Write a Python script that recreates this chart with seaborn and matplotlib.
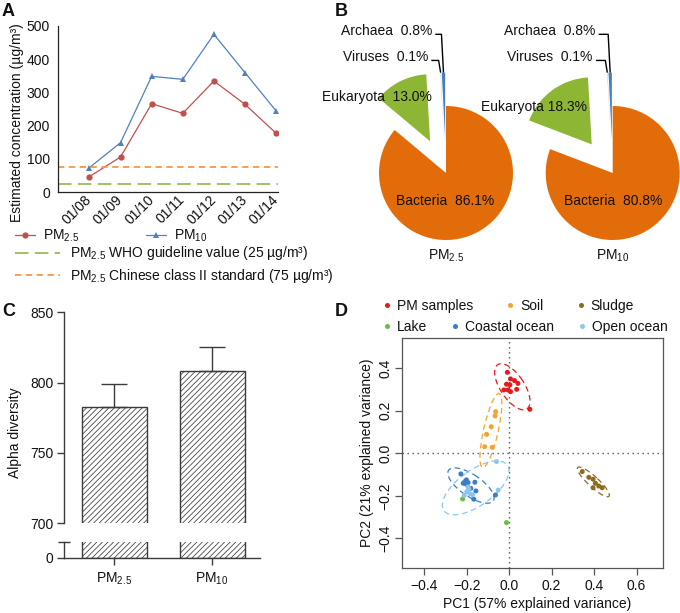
import numpy as np
import pandas as pd
import matplotlib
matplotlib.use("Agg")
import matplotlib.pyplot as plt
import seaborn as sns
from matplotlib.patches import Ellipse
from matplotlib.lines import Line2D

# ---------------- data ----------------
# Panel A
dates = ["01/08", "01/09", "01/10", "01/11", "01/12", "01/13", "01/14"]
pm25_conc = [47, 106, 266, 237, 334, 264, 177]
pm10_conc = [74, 149, 348, 339, 474, 359, 244]
who_value = 25
china_value = 75

# Panel B
domains = ["Bacteria", "Eukaryota", "Viruses", "Archaea"]
pm25_share = [86.1, 13.0, 0.1, 0.8]
pm10_share = [80.8, 18.3, 0.1, 0.8]

# Panel C
size_labels = ["PM$_{2.5}$", "PM$_{10}$"]
alpha_mean = [783, 808]
alpha_err = [16, 17]

# Panel D
pm_x = [-0.009, 0.006, 0.025, 0.041, -0.013, 0.003, 0.035, -0.025, -0.006, 0.006, 0.097]
pm_y = [0.381, 0.350, 0.342, 0.329, 0.325, 0.322, 0.301, 0.298, 0.298, 0.290, 0.207]
soil_x = [-0.064, -0.067, -0.085, -0.107, -0.116, -0.080]
soil_y = [0.196, 0.176, 0.125, 0.089, 0.031, 0.028]
sludge_x = [0.344, 0.375, 0.395, 0.406, 0.422, 0.395, 0.438]
sludge_y = [-0.086, -0.113, -0.122, -0.141, -0.154, -0.162, -0.162]
lake_x = [-0.220, -0.013]
lake_y = [-0.215, -0.326]
coastal_x = [-0.228, -0.202, -0.209, -0.194, -0.217, -0.202, -0.162, -0.181, -0.157, -0.167, -0.065]
coastal_y = [-0.097, -0.125, -0.133, -0.138, -0.141, -0.146, -0.136, -0.165, -0.177, -0.216, -0.196]
open_x = [-0.060, -0.052, -0.194, -0.200, -0.186, -0.173, -0.212, -0.190]
open_y = [-0.039, -0.173, -0.158, -0.180, -0.190, -0.195, -0.197, -0.170]
env_names = ["PM samples", "Soil", "Sludge", "Lake", "Coastal ocean", "Open ocean"]

# ---------------- style ----------------
sns.set_theme(style="white")
plt.rcParams["font.family"] = ["Liberation Sans", "DejaVu Sans"]
plt.rcParams["mathtext.fontset"] = "custom"
plt.rcParams["mathtext.rm"] = "Liberation Sans"
plt.rcParams["mathtext.it"] = "Liberation Sans:italic"
plt.rcParams["mathtext.bf"] = "Liberation Sans:bold"
plt.rcParams["mathtext.default"] = "regular"
plt.rcParams["hatch.linewidth"] = 0.55
plt.rcParams["axes.linewidth"] = 0.9
plt.rcParams["text.color"] = "#111111"
plt.rcParams["xtick.color"] = "#111111"
plt.rcParams["ytick.color"] = "#111111"

W, H = 680, 613
fig = plt.figure(figsize=(W / 100, H / 100), dpi=100)


def px_axes(x0, y0, x1, y1):
    return fig.add_axes([x0 / W, 1 - y1 / H, (x1 - x0) / W, (y1 - y0) / H])


def ftext(px, py, s, **kw):
    return fig.text(px / W, 1 - py / H, s, **kw)


# ---------------- Panel A ----------------
C25, C10 = "#C0504D", "#4F81BD"
CWHO, CCHN = "#9BBB59", "#F79646"
axA = px_axes(58.3, 25.7, 277.7, 192.3)
dfA = pd.DataFrame({"date": dates, "PM25": pm25_conc, "PM10": pm10_conc})
sns.lineplot(data=dfA, x="date", y="PM25", ax=axA, color=C25, marker="o",
             markersize=4.5, markeredgewidth=0, linewidth=0.9, sort=False)
sns.lineplot(data=dfA, x="date", y="PM10", ax=axA, color=C10, marker="^",
             markersize=4.8, markeredgewidth=0, linewidth=0.9, sort=False)
h25, h10 = axA.lines[0], axA.lines[1]
hwho = axA.axhline(who_value, color=CWHO, lw=1.3, dashes=(7.5, 3.5))
hchn = axA.axhline(china_value, color=CCHN, lw=1.3, dashes=(3.5, 2.5))
axA.set_xlim(-1, 6.05)
axA.set_ylim(0, 500)
axA.set_yticks(range(0, 501, 100))
axA.set_xlabel("")
axA.set_ylabel("")
for s in ("top", "right"):
    axA.spines[s].set_visible(False)
for s in ("left", "bottom"):
    axA.spines[s].set_color("#222222")
axA.tick_params(axis="both", length=0, labelsize=10)
axA.tick_params(axis="y", pad=6)
axA.tick_params(axis="x", pad=4)
plt.setp(axA.get_xticklabels(), rotation=45, ha="right", va="center",
         rotation_mode="anchor")
ftext(16.7, 123, "Estimated concentration (µg/m³)", rotation=90,
      ha="center", va="center", fontsize=10)

fig.legend([h25, h10], ["PM$_{2.5}$", "PM$_{10}$"], loc="center left",
           bbox_to_anchor=(15 / W, 1 - 236 / H), ncol=2, frameon=False,
           fontsize=10, handlelength=1.44, handletextpad=0.58,
           columnspacing=4.8, borderpad=0, borderaxespad=0)
fig.legend([hwho, hchn],
           [f"PM$_{{2.5}}$ WHO guideline value ({who_value} µg/m³)",
            f"PM$_{{2.5}}$ Chinese class II standard ({china_value} µg/m³)"],
           loc="center left", bbox_to_anchor=(15 / W, 1 - 264.5 / H),
           frameon=False, fontsize=10, handlelength=3.24,
           handletextpad=0.72, labelspacing=0.3, borderpad=0,
           borderaxespad=0)

# ---------------- Panel B ----------------
pie_colors = ["#E36C0A", "#8DB634", "#9DC3E6", "#4A7EBB"]
explode = [0, 0.53, 0.5, 0.5]
R = 67.0
HH = 110.0


def draw_pie(cx, shares, title, euk_pos, vir_pos, arch_pos, bac_pos, euk_sep):
    ax = px_axes(cx - R, 173 - HH, cx + R, 173 + HH)
    wedges, _ = ax.pie(shares, colors=pie_colors, startangle=90,
                       counterclock=False, explode=explode,
                       wedgeprops=dict(linewidth=0, clip_on=False))
    ax.set_aspect("auto")
    ax.set_xlim(-1, 1)
    ax.set_ylim(-HH / R, HH / R)
    ax.axis("off")
    ax.text(bac_pos[0], bac_pos[1], f"{domains[0]}  {shares[0]:.1f}%",
            ha="center", va="center", fontsize=10)
    ax.text(euk_pos[0], euk_pos[1], f"{domains[1]}{euk_sep}{shares[1]:.1f}%",
            ha="right", va="center", fontsize=10)
    for i, pos in ((2, vir_pos), (3, arch_pos)):
        ax.text(pos[0], pos[1], f"{domains[i]}  {shares[i]:.1f}%",
                ha="right", va="center", fontsize=10)
        w = wedges[i]
        tm = np.deg2rad((w.theta1 + w.theta2) / 2)
        tx = w.center[0] + w.r * np.cos(tm)
        ty = w.center[1] + w.r * np.sin(tm)
        ly = pos[1] - 0.05
        ax.plot([pos[0] + 0.05, tx - 0.03, tx], [ly, ly, ty], color="black",
                lw=1.0, clip_on=False, solid_capstyle="butt")
    ax.text(0, -1.24, title, ha="center", va="center", fontsize=10)


draw_pie(446.0, pm25_share, "PM$_{2.5}$", (-0.21, 1.13), (-0.27, 1.73),
         (-0.21, 2.12), (-0.015, -0.42), "  ")
draw_pie(612.7, pm10_share, "PM$_{10}$", (-0.39, 0.99), (-0.30, 1.73),
         (-0.26, 2.12), (0.0, -0.42), " ")

# ---------------- Panel C ----------------
CC = "#3a3a3a"
dfC = pd.DataFrame({"size": size_labels, "alpha": alpha_mean})
axC = px_axes(64.3, 312.3, 260, 523.3)
axC0 = px_axes(64.3, 542.3, 260, 557.7)
for ax in (axC, axC0):
    sns.barplot(data=dfC, x="size", y="alpha", ax=ax, color="white",
                edgecolor=CC, linewidth=1.0, width=0.665, errorbar=None,
                hatch="//////", saturation=1)
    ax.set_xlim(-0.51, 1.49)
    ax.set_xlabel("")
    ax.set_ylabel("")
    ax.set_facecolor("none")
    for s in ("top", "right"):
        ax.spines[s].set_visible(False)
    for s in ("left", "bottom"):
        ax.spines[s].set_color(CC)
        ax.spines[s].set_linewidth(1.0)
axC.errorbar([0, 1], alpha_mean, yerr=[[0, 0], alpha_err], fmt="none",
             ecolor=CC, elinewidth=1.0, capsize=9.7, capthick=1.0)
axC.set_ylim(700, 850)
axC.set_yticks([700, 750, 800, 850])
axC.spines["bottom"].set_visible(False)
axC.tick_params(axis="x", bottom=False, labelbottom=False)
axC.tick_params(axis="y", left=True, length=5, width=1.0, color=CC,
                labelsize=10, pad=3)
axC0.set_ylim(0, 11)
axC0.set_yticks([0, 11])
axC0.set_yticklabels(["0", ""])
axC0.tick_params(axis="y", left=True, length=5, width=1.0, color=CC,
                 labelsize=10, pad=3)
axC0.yaxis.get_major_ticks()[1].tick1line.set_markersize(8)
axC0.yaxis.get_major_ticks()[1].tick1line.set_marker("_")
axC0.tick_params(axis="x", bottom=True, length=5, width=1.0, color=CC,
                 labelsize=10, pad=4)
ftext(15, 433, "Alpha diversity", rotation=90, ha="center", va="center",
      fontsize=10)

# ---------------- Panel D ----------------
env_colors = ["#E41A1C", "#F4A330", "#8C6A1F", "#6BBE45", "#3A7DC9", "#8DC6E8"]
env_x = [pm_x, soil_x, sludge_x, lake_x, coastal_x, open_x]
env_y = [pm_y, soil_y, sludge_y, lake_y, coastal_y, open_y]
rows = []
for name, xs, ys in zip(env_names, env_x, env_y):
    for xv, yv in zip(xs, ys):
        rows.append((name, xv, yv))
dfD = pd.DataFrame(rows, columns=["group", "PC1", "PC2"])

axD = px_axes(402.3, 338.3, 663.3, 568.3)
axD.axhline(0, color="#555555", lw=1.0, dashes=(1, 2.6), zorder=1)
axD.axvline(0, color="#555555", lw=1.0, dashes=(1, 2.6), zorder=1)
sns.scatterplot(data=dfD, x="PC1", y="PC2", hue="group", hue_order=env_names,
                palette=dict(zip(env_names, env_colors)), s=13, linewidth=0,
                legend=False, ax=axD, zorder=3)
for name, xs, ys, col in zip(env_names, env_x, env_y, env_colors):
    if len(xs) < 3:
        continue
    cov = np.cov(xs, ys)
    vals, vecs = np.linalg.eigh(cov)
    order = vals.argsort()[::-1]
    vals, vecs = vals[order], vecs[:, order]
    ang = np.degrees(np.arctan2(vecs[1, 0], vecs[0, 0]))
    k = np.sqrt(5.991)
    e = Ellipse((np.mean(xs), np.mean(ys)), 2 * k * np.sqrt(vals[0]),
                2 * k * np.sqrt(vals[1]), angle=ang, fill=False,
                edgecolor=col, lw=0.9, linestyle=(0, (4.5, 3.0)), zorder=2)
    axD.add_patch(e)
axD.set_xlim(-0.504, 0.726)
axD.set_ylim(-0.541, 0.541)
xt = [-0.4, -0.2, 0.0, 0.2, 0.4, 0.6]
yt = [-0.4, -0.2, 0.0, 0.2, 0.4]
axD.set_xticks(xt)
axD.set_xticklabels([f"{v:.1f}".replace("-", "−") for v in xt])
axD.set_yticks(yt)
axD.set_yticklabels([f"{v:.1f}".replace("-", "−") for v in yt])
axD.set_xlabel("")
axD.set_ylabel("")
for s in axD.spines.values():
    s.set_color("#555555")
    s.set_linewidth(0.9)
axD.tick_params(axis="both", length=5, width=0.9, color="#555555",
                labelsize=10, bottom=True, left=True)
axD.tick_params(axis="x", pad=3)
axD.tick_params(axis="y", pad=2)
plt.setp(axD.get_yticklabels(), rotation=90, va="center")
ftext(536.7, 604, "PC1 (57% explained variance)", ha="center", va="center",
      fontsize=10)
ftext(366.7, 452.5, "PC2 (21% explained variance)", rotation=90, ha="center",
      va="center", fontsize=10)

handlesD = [Line2D([], [], ls="none", marker="o", ms=3.6, mew=0, color=c)
            for c in env_colors]
fig.legend(handlesD[:3], env_names[:3], loc="center left",
           bbox_to_anchor=(381 / W, 1 - 306 / H), ncol=3, frameon=False,
           fontsize=10, handlelength=0.8, handletextpad=0.34,
           columnspacing=2.26, borderpad=0, borderaxespad=0)
fig.legend(handlesD[3:], env_names[3:], loc="center left",
           bbox_to_anchor=(381 / W, 1 - 327 / H), ncol=3, frameon=False,
           fontsize=10, handlelength=0.8, handletextpad=0.34,
           columnspacing=1.6, borderpad=0, borderaxespad=0)

# ---------------- panel letters ----------------
for lx, ly, lt in ((2, 3, "A"), (335, 3, "B"), (2, 303, "C"), (335, 303, "D")):
    ftext(lx, ly, lt, ha="left", va="top", fontsize=13, fontweight="bold")

fig.savefig("out.png", dpi=100)
